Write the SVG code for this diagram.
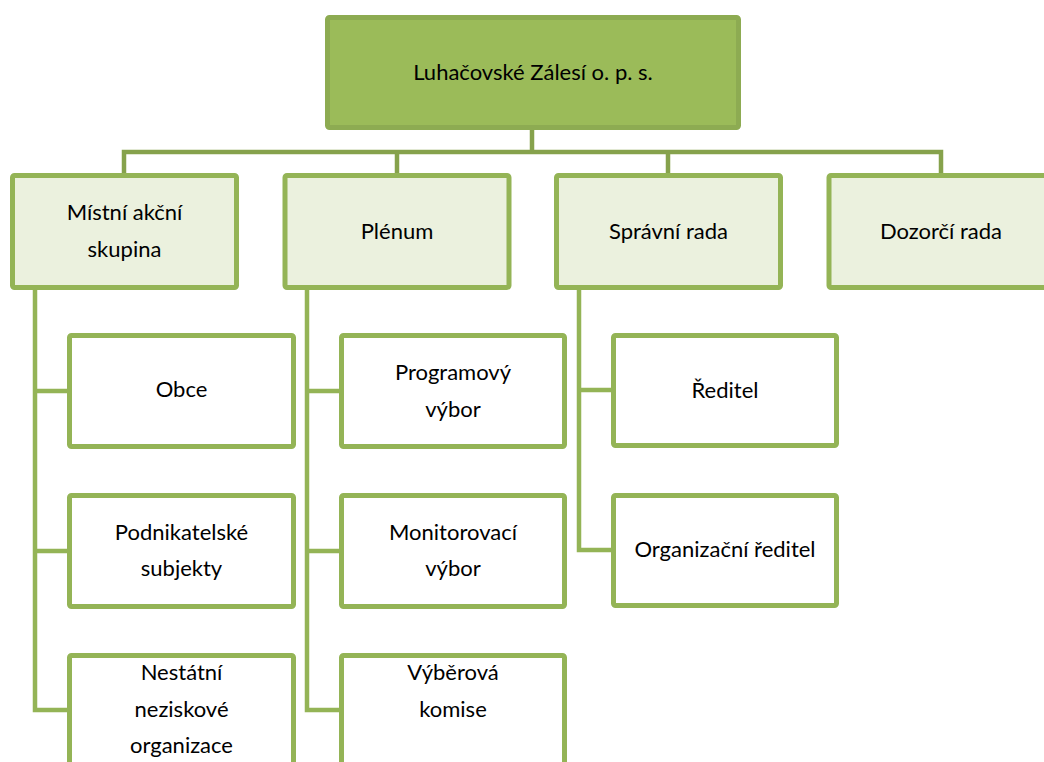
<svg xmlns="http://www.w3.org/2000/svg" width="1044" height="762" viewBox="0 0 1044 762">
<style>
text{font-family:Lato,"Liberation Sans",sans-serif;font-size:22px;fill:#000;text-anchor:middle}
.root{fill:#9BBB59;stroke:#8DAB52;stroke-width:5}
.lvl1{fill:#EBF1DE;stroke:#94B456;stroke-width:5}
.lvl2{fill:#FFFFFF;stroke:#94B456;stroke-width:5}
.c1{fill:none;stroke:#86A24C;stroke-width:4.5}
.c2{fill:none;stroke:#94B456;stroke-width:4.5}
</style>
<rect width="1044" height="762" fill="#fff"/>
<g id="connectors">
<path class="c1" d="M532 130V152M124 173V152H941V173M397 152V173M668 152V173"/>
<path class="c2" d="M35 290V710H67M35 391H67M35 551H67"/>
<path class="c2" d="M307 290V710H339M307 391H339M307 551H339"/>
<path class="c2" d="M579 290V550H611M579 390H611"/>
</g>
<g id="root"><rect class="root" x="327.5" y="17.5" width="411" height="110" rx="2"/><text x="533" y="80">Luhačovské Zálesí o. p. s.</text></g>
<g id="mas"><rect class="lvl1" x="12.5" y="175.5" width="224" height="112" rx="2"/><text x="124.5" y="220">Místní akční</text><text x="124.5" y="257">skupina</text></g>
<g id="plenum"><rect class="lvl1" x="285" y="175.5" width="224" height="112" rx="2"/><text x="397" y="239">Plénum</text></g>
<g id="spravni"><rect class="lvl1" x="556.5" y="175.5" width="224" height="112" rx="2"/><text x="668.5" y="239">Správní rada</text></g>
<g id="dozorci"><rect class="lvl1" x="829" y="175.5" width="224" height="112" rx="2"/><text x="941" y="239">Dozorčí rada</text></g>
<g id="obce"><rect class="lvl2" x="69.5" y="335.5" width="224" height="111" rx="2"/><text x="181.5" y="397">Obce</text></g>
<g id="podnikatelske"><rect class="lvl2" x="69.5" y="495.5" width="224" height="111" rx="2"/><text x="181.5" y="540">Podnikatelské</text><text x="181.5" y="576">subjekty</text></g>
<g id="nno"><rect class="lvl2" x="69.5" y="655.5" width="224" height="111" rx="2"/><text x="181.5" y="680">Nestátní</text><text x="181.5" y="717">neziskové</text><text x="181.5" y="753">organizace</text></g>
<g id="programovy"><rect class="lvl2" x="341.5" y="335.5" width="223" height="111" rx="2"/><text x="453" y="380">Programový</text><text x="453" y="417">výbor</text></g>
<g id="monitorovaci"><rect class="lvl2" x="341.5" y="495.5" width="223" height="111" rx="2"/><text x="453" y="540">Monitorovací</text><text x="453" y="576">výbor</text></g>
<g id="vyberova"><rect class="lvl2" x="341.5" y="655.5" width="223" height="111" rx="2"/><text x="453" y="680">Výběrová</text><text x="453" y="717">komise</text></g>
<g id="reditel"><rect class="lvl2" x="613.5" y="335.5" width="223" height="110" rx="2"/><text x="725" y="398">Ředitel</text></g>
<g id="orgreditel"><rect class="lvl2" x="613.5" y="495.5" width="223" height="110" rx="2"/><text x="725" y="557">Organizační ředitel</text></g>
</svg>
